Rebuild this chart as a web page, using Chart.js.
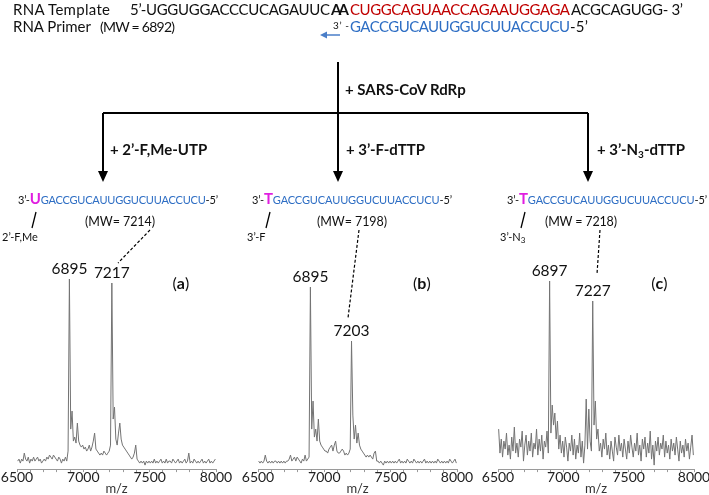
<!DOCTYPE html>
<html>
<head>
<meta charset="utf-8">
<script src="https://cdn.jsdelivr.net/npm/chart.js@4.4.0/dist/chart.umd.min.js"></script>
<style>
  html, body { margin: 0; padding: 0; background: #fff; overflow: hidden; }
  #wrap { position: relative; width: 709px; height: 495px; font-family: Lato, sans-serif; }
  #scheme { position: absolute; left: 0; top: 0; }
  .panel { position: absolute; top: 249px; }
  .panel canvas { display: block; }
</style>
</head>
<body>
<div id="wrap">
  <div class="panel" style="left:-3px"><canvas id="chart-a" width="239" height="246"></canvas></div>
  <div class="panel" style="left:238px"><canvas id="chart-b" width="239" height="246"></canvas></div>
  <div class="panel" style="left:478px"><canvas id="chart-c" width="236" height="246"></canvas></div>

  <svg id="scheme" width="709" height="495" font-family="Lato, sans-serif" fill="#111">
    <!-- 鋳型・プライマー -->
    <text x="13" y="15" font-size="15" textLength="97">RNA Template</text>
    <text x="130" y="15" font-size="15" textLength="200">5’-UGGUGGACCCUCAGAUUC</text>
    <text x="331" y="15" font-size="15" font-weight="bold" textLength="18">AA</text>
    <text x="350" y="15" font-size="15" fill="#c00000" textLength="220">CUGGCAGUAACCAGAAUGGAGA</text>
    <text x="571" y="15" font-size="15" textLength="112">ACGCAGUGG- 3’</text>

    <text x="13" y="32" font-size="15" textLength="78">RNA Primer</text>
    <text x="100" y="32" font-size="14" textLength="75">(MW = 6892)</text>
    <line x1="340" y1="35" x2="325" y2="35" stroke="#4a7ec8" stroke-width="1.5"/>
    <polygon points="320,35 327,31.5 327,38.5" fill="#4a7ec8"/>
    <text x="333" y="29" font-size="10" textLength="16">3’ -</text>
    <text x="350" y="32" font-size="15" fill="#2e6ec4" textLength="220">GACCGUCAUUGGUCUUACCUCU</text>
    <text x="570" y="32" font-size="15" textLength="18">-5’</text>

    <!-- 分岐矢印 -->
    <g stroke="#000" stroke-width="2" fill="none">
      <path d="M338,62 V174"/>
      <path d="M103,113 H588"/>
      <path d="M103,113 V174"/>
      <path d="M588,113 V174"/>
    </g>
    <g fill="#000">
      <polygon points="98,171 108,171 103,182"/>
      <polygon points="333,171 343,171 338,182"/>
      <polygon points="583,171 593,171 588,182"/>
    </g>
    <g font-size="15" font-weight="bold">
      <text x="345" y="95">+ SARS-CoV RdRp</text>
      <text x="110" y="155">+ 2’-F,Me-UTP</text>
      <text x="346" y="155">+ 3’-F-dTTP</text>
      <text x="597" y="155">+ 3’-N<tspan font-size="10" dy="3">3</tspan><tspan dy="-3">-dTTP</tspan></text>
    </g>

    <!-- 伸長産物 -->
    <g font-size="11">
      <text x="18" y="204" textLength="200">3’-<tspan font-size="15" font-weight="bold" fill="#e01ee0">U</tspan><tspan fill="#2e6ec4">GACCGUCAUUGGUCUUACCUCU</tspan>-5’</text>
      <text x="85" y="226" font-size="12.5" textLength="70">(MW= 7214)</text>

      <text x="252" y="204" textLength="200">3’-<tspan font-size="15" font-weight="bold" fill="#e01ee0">T</tspan><tspan fill="#2e6ec4">GACCGUCAUUGGUCUUACCUCU</tspan>-5’</text>
      <text x="317" y="226" font-size="12.5" textLength="70">(MW= 7198)</text>

      <text x="507" y="204" textLength="200">3’-<tspan font-size="15" font-weight="bold" fill="#e01ee0">T</tspan><tspan fill="#2e6ec4">GACCGUCAUUGGUCUUACCUCU</tspan>-5’</text>
      <text x="545" y="226" font-size="12.5" textLength="72">(MW = 7218)</text>
    </g>
    <g stroke="#000" stroke-width="1.3">
      <line x1="36" y1="212" x2="32" y2="228"/>
      <line x1="270" y1="212" x2="266" y2="228"/>
      <line x1="525" y1="212" x2="521" y2="228"/>
    </g>
    <g font-size="11">
      <text x="2" y="241">2’-F,Me</text>
      <text x="247" y="241">3’-F</text>
      <text x="500" y="241">3’-N<tspan font-size="8" dy="2">3</tspan></text>
    </g>
    <g stroke="#000" stroke-width="1.2" stroke-dasharray="3,2">
      <line x1="150" y1="230" x2="118" y2="263"/>
      <line x1="359" y1="230" x2="348" y2="318"/>
      <line x1="600" y1="230" x2="597" y2="274"/>
    </g>
  </svg>
</div>

<script>
  // m/z 軸（10刻みで読み取り）
  var mz = [
    6505, 6515, 6525, 6535, 6545, 6555, 6565, 6575, 6585, 6595,
    6605, 6615, 6625, 6635, 6645, 6655, 6665, 6675, 6685, 6695,
    6705, 6715, 6725, 6735, 6745, 6755, 6765, 6775, 6785, 6795,
    6805, 6815, 6825, 6835, 6845, 6855, 6865, 6875, 6885, 6895,
    6905, 6915, 6925, 6935, 6945, 6955, 6965, 6975, 6985, 6995,
    7005, 7015, 7025, 7035, 7045, 7055, 7065, 7075, 7085, 7095,
    7105, 7115, 7125, 7135, 7145, 7155, 7165, 7175, 7185, 7195,
    7205, 7215, 7225, 7235, 7245, 7255, 7265, 7275, 7285, 7295,
    7305, 7315, 7325, 7335, 7345, 7355, 7365, 7375, 7385, 7395,
    7405, 7415, 7425, 7435, 7445, 7455, 7465, 7475, 7485, 7495,
    7505, 7515, 7525, 7535, 7545, 7555, 7565, 7575, 7585, 7595,
    7605, 7615, 7625, 7635, 7645, 7655, 7665, 7675, 7685, 7695,
    7705, 7715, 7725, 7735, 7745, 7755, 7765, 7775, 7785, 7795,
    7805, 7815, 7825, 7835, 7845, 7855, 7865, 7875, 7885, 7895,
    7905, 7915, 7925, 7935, 7945, 7955, 7965, 7975, 7985, 7995
  ];

  // (a) + 2'-F,Me-UTP
  var intensityA = [
    4, 5, 3, 5, 4, 8, 5, 4, 6, 3,
    5, 4, 6, 4, 5, 6, 4, 5, 3, 4,
    5, 4, 6, 5, 7, 6, 5, 7, 6, 5,
    4, 6, 5, 3, 5, 4, 6, 4, 9, 95,
    20, 29, 14, 16, 13, 23, 14, 12, 11, 12,
    10, 11, 9, 10, 12, 9, 11, 14, 18, 10,
    9, 8, 7, 8, 7, 9, 8, 7, 8, 9,
    12, 93, 25, 31, 15, 12, 18, 23, 15, 12,
    11, 10, 9, 8, 7, 6, 5, 6, 8, 12,
    5, 4, 3, 4, 3, 4, 2, 4, 3, 4,
    3, 4, 3, 5, 3, 4, 3, 4, 5, 3,
    4, 3, 5, 3, 4, 4, 3, 5, 4, 3,
    4, 5, 3, 4, 3, 4, 5, 3, 4, 8,
    3, 4, 3, 5, 4, 3, 4, 3, 4, 5,
    3, 4, 3, 4, 5, 3, 4, 3, 4, 5
  ];

  // (b) + 3'-F-dTTP
  var intensityB = [
    4, 3, 4, 3, 4, 7, 4, 3, 4, 3,
    4, 3, 4, 4, 3, 4, 3, 4, 3, 4,
    3, 4, 4, 5, 7, 4, 5, 6, 4, 6,
    5, 4, 3, 5, 4, 7, 4, 5, 6, 91,
    20, 34, 16, 20, 14, 25, 14, 12, 11, 10,
    9, 9, 8, 10, 11, 12, 9, 12, 14, 9,
    8, 8, 9, 10, 9, 7, 8, 7, 8, 10,
    64, 27, 15, 22, 13, 18, 12, 10, 9, 8,
    7, 6, 7, 6, 7, 6, 5, 8, 9, 4,
    4, 3, 4, 3, 2, 4, 3, 4, 3, 4,
    3, 4, 3, 4, 3, 4, 5, 3, 4, 3,
    4, 3, 5, 4, 3, 4, 3, 5, 4, 3,
    4, 3, 4, 3, 4, 5, 3, 4, 3, 4,
    3, 4, 3, 4, 3, 5, 4, 3, 4, 3,
    4, 3, 4, 3, 5, 4, 3, 4, 5, 3
  ];

  // (c) + 3'-N3-dTTP
  var intensityC = [
    20, 8, 15, 6, 14, 10, 18, 7, 12, 5,
    16, 9, 21, 8, 13, 6, 15, 11, 19, 4,
    12, 17, 7, 14, 9, 18, 6, 13, 10, 20,
    7, 15, 9, 17, 5, 14, 11, 19, 8, 94,
    18, 32, 22, 28, 15, 24, 10, 17, 8, 14,
    6, 16, 11, 4, 13, 9, 17, 7, 15, 5,
    12, 8, 18, 6, 14, 3, 12, 35, 10, 30,
    14, 9, 84, 22, 34, 15, 20, 9, 13, 6,
    15, 10, 18, 7, 12, 5, 14, 9, 4, 16,
    11, 7, 17, 9, 13, 6, 15, 10, 5, 14,
    8, 17, 11, 6, 13, 9, 18, 7, 12, 4,
    15, 10, 16, 6, 13, 8, 19, 5, 12, 2,
    14, 9, 16, 7, 13, 10, 17, 6, 14, 8,
    12, 5, 15, 9, 13, 7, 16, 10, 4, 14,
    8, 12, 6, 15, 9, 13, 5, 11, 17, 7
  ];

  var xLabels = [6500, 7000, 7500, 8000];

  // ピーク注記（m/z位置と表示値）
  var peakMzA = [6895, 7215], peakTextA = ['6895', '7217'];
  var peakMzB = [6895, 7205], peakTextB = ['6895', '7203'];
  var peakMzC = [6895, 7225], peakTextC = ['6897', '7227'];

  var peakLabelPlugin = {
    id: 'peakLabels',
    afterDatasetsDraw: function(chart, args, opts) {
      var ctx = chart.ctx;
      var xs = chart.scales.x, ys = chart.scales.y;
      ctx.save();
      ctx.fillStyle = '#111';
      ctx.textBaseline = 'alphabetic';
      ctx.textAlign = 'center';
      ctx.font = '15.5px Lato, sans-serif';
      opts.mz.forEach(function(m, i) {
        var v = opts.values[mz.indexOf(m)];
        ctx.fillText(opts.text[i], xs.getPixelForValue(m), ys.getPixelForValue(v) - 5);
      });
      // パネル記号 (a) (b) (c)
      var cx = xs.getPixelForValue(7735), cy = ys.getPixelForValue(90);
      ctx.textAlign = 'left';
      ctx.font = '16px Lato, sans-serif';
      var wp = ctx.measureText('(').width, wq = ctx.measureText(')').width;
      ctx.font = 'bold 16px Lato, sans-serif';
      var wl = ctx.measureText(opts.tag).width;
      var x0 = cx - (wp + wl + wq) / 2;
      ctx.font = '16px Lato, sans-serif';
      ctx.fillText('(', x0, cy);
      ctx.fillText(')', x0 + wp + wl, cy);
      ctx.font = 'bold 16px Lato, sans-serif';
      ctx.fillText(opts.tag, x0 + wp, cy);
      ctx.restore();
    }
  };

  function makeSpectrum(id, values, pMz, pText, tag) {
    var pts = mz.map(function(m, i) { return { x: m, y: values[i] }; });
    return new Chart(document.getElementById(id), {
      type: 'line',
      data: {
        datasets: [{
          data: pts,
          borderColor: '#737373',
          borderWidth: 1,
          pointRadius: 0,
          tension: 0
        }]
      },
      options: {
        responsive: false,
        animation: false,
        devicePixelRatio: 1,
        layout: { padding: { left: 20, right: 20, top: 0, bottom: 0 } },
        plugins: {
          legend: { display: false },
          tooltip: { enabled: false },
          peakLabels: { mz: pMz, text: pText, values: values, tag: tag }
        },
        scales: {
          x: {
            type: 'linear',
            min: 6500,
            max: 8000,
            border: { color: '#9a9a9a', width: 1 },
            grid: { drawOnChartArea: false, drawTicks: true, tickLength: 3, color: '#9a9a9a' },
            ticks: {
              stepSize: 100,
              autoSkip: false,
              maxRotation: 0,
              padding: 0,
              color: '#222',
              font: { family: 'Lato', size: 14, lineHeight: 0.8 },
              callback: function(v) { return xLabels.indexOf(v) >= 0 ? String(v) : ''; }
            },
            title: {
              display: true,
              text: 'm/z',
              color: '#333',
              padding: 0,
              font: { family: 'Lato', size: 13, lineHeight: 0.9 }
            }
          },
          y: { display: false, min: 0, max: 110 }
        }
      },
      plugins: [peakLabelPlugin]
    });
  }

  makeSpectrum('chart-a', intensityA, peakMzA, peakTextA, 'a');
  makeSpectrum('chart-b', intensityB, peakMzB, peakTextB, 'b');
  makeSpectrum('chart-c', intensityC, peakMzC, peakTextC, 'c');
</script>
</body>
</html>
